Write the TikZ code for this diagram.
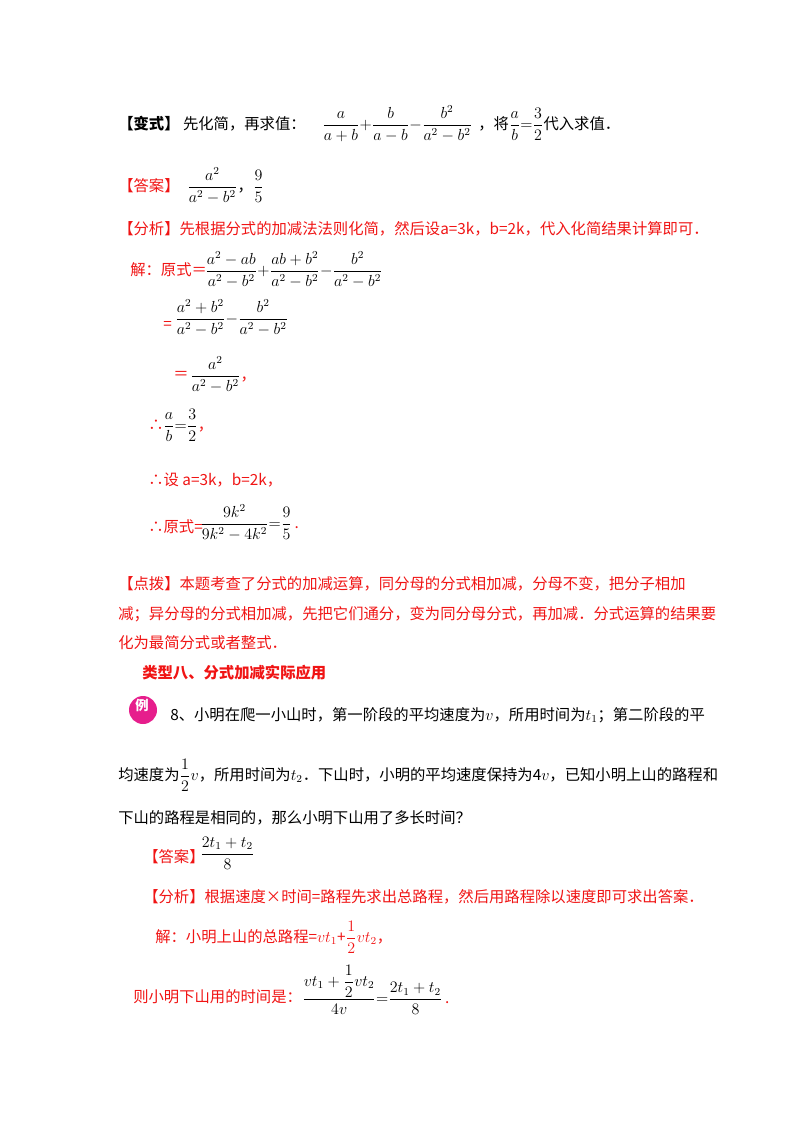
\documentclass[tikz,border=0pt]{standalone}
\usepackage{amsmath}
\usepackage{fontspec}
\setmainfont{Liberation Serif}
\newfontfamily\zh{Noto Sans CJK SC}
\definecolor{myred}{RGB}{240,20,20}
\definecolor{badge}{RGB}{230,30,140}
\newcommand{\mm}[1]{{\fontsize{12}{13}\selectfont$#1$}}
\tikzset{t/.style={anchor=west,inner sep=0pt,font=\fontsize{11.5}{13}\selectfont\zh},
 r/.style={t,text=myred}}
\begin{document}
\begin{tikzpicture}[x=0.75pt,y=-0.75pt]
\useasboundingbox (0,0) rectangle (800,1132);
\node[t] (a1) at (118,124) {\bfseries 【变式】\mdseries\ 先化简，再求值：};
\node[t] (a2) at (322,124) {\mm{\dfrac{a}{a+b}{+}\dfrac{b}{a-b}{-}\dfrac{b^2}{a^2-b^2}}};
\node[t] (a3) at (478,124) {，将\mm{\dfrac{a}{b}{=}\dfrac{3}{2}}代入求值．};
\node[r] (b1) at (118,186) {【答案】};
\node[t] (b2) at (187,186) {\mm{\dfrac{a^2}{a^2-b^2}}，\mm{\dfrac{9}{5}}};
\node[r] (c1) at (118,229) {【分析】先根据分式的加减法法则化简，然后设a=3k，b=2k，代入化简结果计算即可．};
\node[r] (d1) at (130,270) {解：原式＝};
\node[t] (d2) at (205,270) {\mm{\dfrac{a^2-ab}{a^2-b^2}{+}\dfrac{ab+b^2}{a^2-b^2}{-}\dfrac{b^2}{a^2-b^2}}};
\node[r] (e1) at (163,325) {=};
\node[t] (e2) at (175,318) {\mm{\dfrac{a^2+b^2}{a^2-b^2}{-}\dfrac{b^2}{a^2-b^2}}};
\node[r] (f1) at (173,375) {＝};
\node[t] (f2) at (190,375) {\mm{\dfrac{a^2}{a^2-b^2}}\textcolor{myred}{，}};
\node[r] (g1) at (148,425) {∴};
\node[t] (g2) at (163,425) {\mm{\dfrac{a}{b}{=}\dfrac{3}{2}}\textcolor{myred}{，}};
\node[r] (h1) at (148,480) {∴设 a=3k，b=2k，};
\node[r] (i1) at (148,527) {∴原式=};
\node[t] (i2) at (200,523) {\mm{\dfrac{9k^2}{9k^2-4k^2}{=}\dfrac{9}{5}}\,\textcolor{myred}{.}};
\node[r] (j1) at (118,584) {【点拨】本题考查了分式的加减运算，同分母的分式相加减，分母不变，把分子相加};
\node[r] (j2) at (118,614) {减；异分母的分式相加减，先把它们通分，变为同分母分式，再加减．分式运算的结果要};
\node[r] (j3) at (118,643) {化为最简分式或者整式．};
\node[r] (k1) at (142,673) {\bfseries 类型八、分式加减实际应用};
\fill[badge] (143,710) circle (14);
\node[t,text=white,font=\fontsize{10}{11}\selectfont\zh\bfseries] (bd) at (135,705) {例};
\node[t] (l1) at (170,715) {8、小明在爬一小山时，第一阶段的平均速度为\mm{v}，所用时间为\mm{t_1}；第二阶段的平};
\node[t] (l2) at (118,775) {均速度为\mm{\dfrac{1}{2}v}，所用时间为\mm{t_2}．下山时，小明的平均速度保持为4\mm{v}，已知小明上山的路程和};
\node[t] (l3) at (118,818) {下山的路程是相同的，那么小明下山用了多长时间？};
\node[r] (m1) at (143,857) {【答案】};
\node[t] (m2) at (200,853) {\mm{\dfrac{2t_1+t_2}{8}}};
\node[r] (n1) at (143,897) {【分析】根据速度×时间=路程先求出总路程，然后用路程除以速度即可求出答案．};
\node[r] (o1) at (155,937) {解：小明上山的总路程=\mm{vt_1}+\mm{\dfrac{1}{2}vt_2}，};
\node[r] (p1) at (133,997) {则小明下山用的时间是：};
\node[t] (p2) at (302,990) {\mm{\dfrac{vt_1+\dfrac{1}{2}vt_2}{4v}{=}\dfrac{2t_1+t_2}{8}}\,\textcolor{myred}{.}};
\end{tikzpicture}
\end{document}
